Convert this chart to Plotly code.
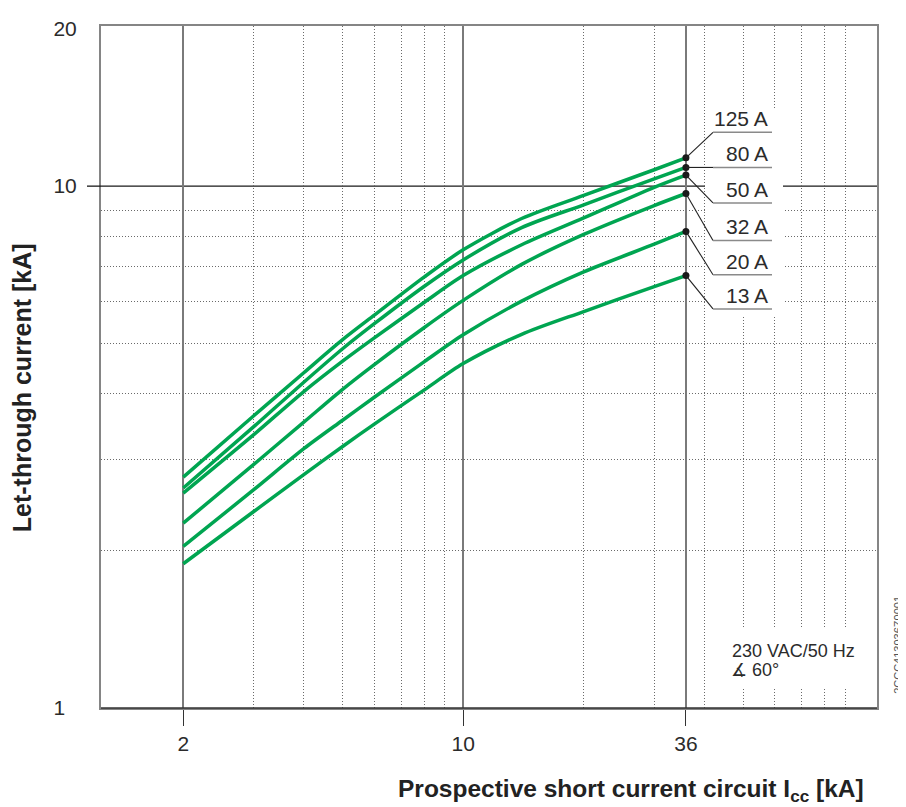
import math
import plotly.graph_objects as go

# ---------------- data ----------------
x_kA = [2, 3, 4, 5, 6, 8, 10, 14, 20, 30, 36]
i_125 = [2.77, 3.63, 4.39, 5.08, 5.66, 6.70, 7.55, 8.67, 9.60, 10.75, 11.33]
i_80 = [2.64, 3.46, 4.21, 4.88, 5.45, 6.43, 7.22, 8.33, 9.21, 10.33, 10.86]
i_50 = [2.58, 3.34, 4.04, 4.62, 5.12, 5.99, 6.74, 7.72, 8.69, 9.95, 10.50]
i_32 = [2.26, 2.93, 3.53, 4.08, 4.55, 5.36, 6.04, 7.08, 8.08, 9.18, 9.68]
i_20 = [2.04, 2.62, 3.14, 3.56, 3.94, 4.61, 5.19, 6.02, 6.85, 7.74, 8.19]
i_13 = [1.89, 2.38, 2.80, 3.17, 3.50, 4.07, 4.57, 5.20, 5.75, 6.42, 6.74]
series_names = ["125 A", "80 A", "50 A", "32 A", "20 A", "13 A"]
series_vals = [i_125, i_80, i_50, i_32, i_20, i_13]

x_tick_vals = [2, 10, 36]
x_tick_text = ["2", "10", "36"]
x_minor_vals = [3, 4, 5, 6, 7, 8, 9, 20, 30, 40, 50, 60, 70, 80, 90]
y_tick_vals = [1, 10, 20]
y_tick_text = ["1\u00a0\u00a0", "10", "20"]
y_minor_vals = [2, 3, 4, 5, 6, 7, 8, 9]

# ---------------- geometry (page pixels; page body has an 8 px margin) ----------------
OFF = 8
W, H = 906 - OFF, 807 - OFF
L, R, T, B = 101, 877, 17, 708
X0, X1 = math.log10(1.2463), math.log10(108.0)
Y0, Y1 = 0.0, math.log10(20.27)


def xd(px):
    return 10 ** (X0 + (px - L) / (R - L) * (X1 - X0))


def yd(py):
    return 10 ** (Y1 - (py - T) / (B - T) * (Y1 - Y0))


def xp(px):
    return (px - L) / (R - L)


def yp(py):
    return (B - py) / (B - T)


GREEN = "#00A551"
TXT = "#2b2b2b"
FONT = "Liberation Sans, Arial, sans-serif"
DOT = "1px,2px"

fig = go.Figure()
for name, vals in zip(series_names, series_vals):
    fig.add_trace(go.Scatter(
        x=x_kA, y=vals, mode="lines", name=name,
        line=dict(color=GREEN, width=3.5, shape="spline", smoothing=0.8),
        hoverinfo="x+y+name"))

fig.add_trace(go.Scatter(
    x=[x_kA[-1]] * len(series_vals), y=[v[-1] for v in series_vals],
    mode="markers", marker=dict(color="#1a1a1a", size=7), hoverinfo="skip"))

shapes = []
for xv in [2, 10]:
    shapes.append(dict(type="line", xref="x", yref="paper", x0=xv, x1=xv, y0=0, y1=1,
                       line=dict(color="#1a1a1a", width=1.3), layer="below"))
shapes.append(dict(type="line", xref="paper", yref="y", x0=0, x1=1, y0=10, y1=10,
                   line=dict(color="#1a1a1a", width=1.3), layer="below"))
shapes.append(dict(type="line", xref="paper", yref="paper", x0=0, x1=1, y0=0, y1=0,
                   line=dict(color="#333333", width=1.6), layer="above"))
shapes.append(dict(type="line", xref="paper", yref="y", x0=xp(87), x1=0, y0=10, y1=10,
                   line=dict(color="#1a1a1a", width=1.3), layer="above"))
shapes.append(dict(type="rect", xref="paper", yref="paper", x0=xp(705), x1=xp(783),
                   y0=yp(310), y1=yp(100), fillcolor="white", line=dict(width=0), layer="above"))
shapes.append(dict(type="rect", xref="paper", yref="paper", x0=xp(708), x1=xp(874),
                   y0=yp(688), y1=yp(628), fillcolor="white", line=dict(width=0), layer="above"))

label_underline_py = [124.7, None, 196.3, 234.3, 269.0, 303.7]
annotations = []
for name, vals, upy in zip(series_names, series_vals, label_underline_py):
    v = vals[-1]
    xe = x_kA[-1]
    if upy is None:
        uy = v
        shapes.append(dict(type="line", xref="x", yref="y", x0=xe, x1=xd(713), y0=uy, y1=uy,
                           line=dict(color="#222222", width=1.1), layer="above"))
    else:
        uy = yd(upy)
        shapes.append(dict(type="line", xref="x", yref="y", x0=xe, x1=xd(713), y0=v, y1=uy,
                           line=dict(color="#222222", width=1.1), layer="above"))
    shapes.append(dict(type="line", xref="x", yref="y", x0=xd(713), x1=xd(772), y0=uy, y1=uy,
                       line=dict(color="#8a8a8a", width=1.6), layer="above"))
    annotations.append(dict(x=math.log10(xd(770)), y=math.log10(uy), xref="x", yref="y",
                            text=name, showarrow=False, xanchor="right", yanchor="bottom",
                            font=dict(family=FONT, size=21, color=TXT)))

annotations.append(dict(x=xp(730), y=yp(650), xref="paper", yref="paper",
                        text="230 VAC/50 Hz", showarrow=False, xanchor="left", yanchor="middle",
                        font=dict(family=FONT, size=18, color=TXT)))
annotations.append(dict(x=xp(729), y=yp(670), xref="paper", yref="paper",
                        text="\u2221 60°", showarrow=False, xanchor="left", yanchor="middle",
                        font=dict(family=FONT, size=18, color=TXT)))
annotations.append(dict(x=xp(898), y=yp(644), xref="paper", yref="paper",
                        text="2CCC413036Z0001", showarrow=False, textangle=-90,
                        xanchor="center", yanchor="middle", borderpad=0,
                        font=dict(family=FONT, size=11, color="#555555")))
annotations.append(dict(x=xp(22), y=yp(384), xref="paper", yref="paper",
                        text="<b>Let-through current [kA]</b>", showarrow=False, textangle=-90,
                        xanchor="center", yanchor="middle",
                        font=dict(family=FONT, size=25, color="#222222")))
annotations.append(dict(x=xp(866), y=yp(792), xref="paper", yref="paper",
                        text="<b>Prospective short current circuit I<sub>cc</sub> [kA]</b>",
                        showarrow=False, xanchor="right", yanchor="middle",
                        font=dict(family=FONT, size=24.5, color="#222222")))

fig.update_layout(
    width=W, height=H,
    margin=dict(l=L - OFF, r=(906 - R), t=T - OFF, b=(807 - B), pad=0),
    paper_bgcolor="white", plot_bgcolor="white",
    showlegend=False,
    shapes=shapes, annotations=annotations,
    font=dict(family=FONT, color=TXT),
    xaxis=dict(type="log", range=[X0, X1], tickvals=x_tick_vals, ticktext=x_tick_text,
               showgrid=True, gridcolor="#7a7a7a", gridwidth=2.2,
               ticks="outside", ticklen=16, tickwidth=1.4, tickcolor="#333333",
               tickfont=dict(family=FONT, size=21, color=TXT),
               showline=True, linecolor="#858585", linewidth=1.6, mirror=True,
               zeroline=False,
               minor=dict(tickvals=x_minor_vals, showgrid=True, gridcolor="#6a6a6a",
                          griddash=DOT, gridwidth=1, ticks="")),
    yaxis=dict(type="log", range=[Y0, Y1], tickvals=y_tick_vals, ticktext=y_tick_text,
               showgrid=False,
               ticks="outside", ticklen=18, tickcolor="rgba(0,0,0,0)",
               tickfont=dict(family=FONT, size=21, color=TXT),
               showline=True, linecolor="#858585", linewidth=2, mirror=True,
               zeroline=False,
               minor=dict(tickvals=y_minor_vals, showgrid=True, gridcolor="#6a6a6a",
                          griddash=DOT, gridwidth=1, ticks="")),
)

fig.write_html("out.html")
